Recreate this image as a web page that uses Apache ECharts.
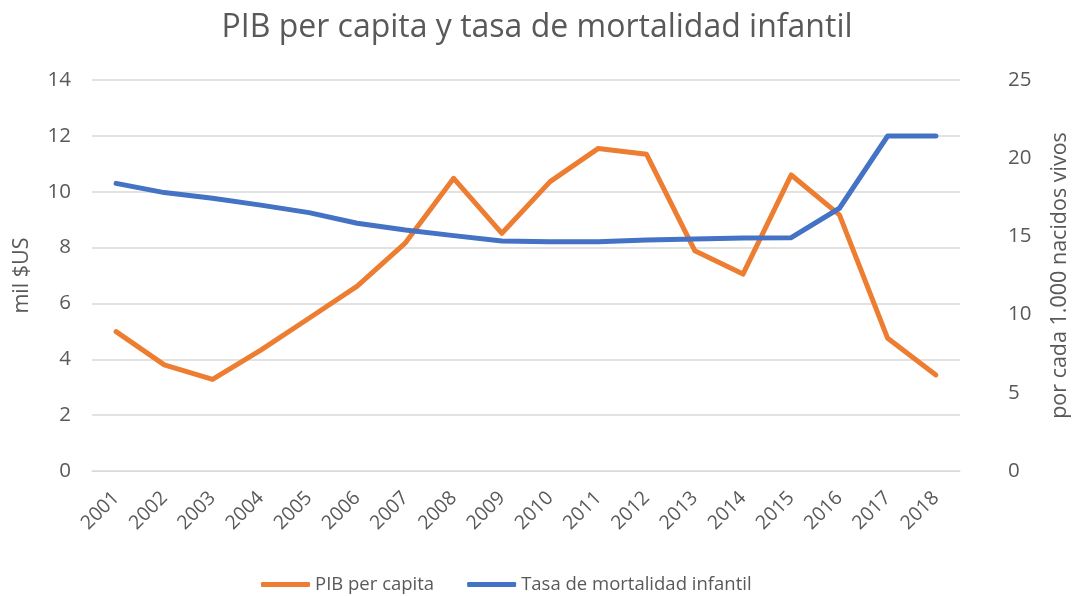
<!DOCTYPE html>
<html>
<head>
<meta charset="utf-8">
<script src="https://cdn.jsdelivr.net/npm/echarts@6/dist/echarts.min.js"></script>
<style>
  html, body { margin: 0; padding: 0; background: #fff; }
  #main { width: 1074px; height: 596px; }
</style>
</head>
<body>
<div id="main"></div>
<script>
// datos
var years = ['2001', '2002', '2003', '2004', '2005', '2006', '2007', '2008', '2009',
  '2010', '2011', '2012', '2013', '2014', '2015', '2016', '2017', '2018']
var pib = [4.99, 3.8, 3.28, 4.33, 5.47, 6.62, 8.17, 10.48, 8.51,
  10.36, 11.55, 11.34, 7.89, 7.05, 10.6, 9.17, 4.75, 3.44]
var mortalidad = [18.39, 17.8, 17.44, 17.0, 16.52, 15.84, 15.41, 15.05, 14.7,
  14.66, 14.66, 14.77, 14.83, 14.9, 14.92, 16.8, 21.42, 21.42]

var fontFam = '"Open Sans", "Noto Sans", sans-serif'
var grey = '#595959'

var myChart = echarts.init(document.getElementById('main'))
var option = {
  backgroundColor: '#fff',
  textStyle: { fontFamily: fontFam },
  title: {
    text: 'PIB per capita y tasa de mortalidad infantil',
    left: 'center',
    top: 7,
    textStyle: { fontFamily: fontFam, fontSize: 32, fontWeight: 'normal', color: grey },
  },
  legend: {
    top: 570,
    left: 256,
    icon: 'roundRect',
    itemWidth: 49,
    itemHeight: 5,
    itemGap: 33,
    textStyle: { fontFamily: fontFam, fontSize: 18.5, color: grey },
    data: ['PIB per capita', 'Tasa de mortalidad infantil'],
  },
  grid: { left: 92, right: 114, top: 80, bottom: 125, outerBoundsMode: 'none' },
  xAxis: {
    type: 'category',
    data: years,
    axisLine: { lineStyle: { color: '#d9d9d9' } },
    axisTick: { show: false },
    axisLabel: { rotate: 45, fontSize: 19.5, color: grey, interval: 0, margin: 24 },
  },
  yAxis: [
    {
      type: 'value',
      min: 0,
      max: 14,
      interval: 2,
      name: 'mil $US',
      nameLocation: 'middle',
      nameGap: 59,
      nameTextStyle: { fontSize: 21.5, color: grey },
      axisLabel: { fontSize: 20.5, color: grey, margin: 21 },
      splitLine: { lineStyle: { color: '#d9d9d9', width: 1.5 } },
    },
    {
      type: 'value',
      min: 0,
      max: 25,
      interval: 5,
      name: 'por cada 1.000 nacidos vivos',
      nameLocation: 'middle',
      nameGap: 89,
      nameRotate: 90,
      nameTextStyle: { fontSize: 21.5, color: grey },
      axisLabel: { fontSize: 20.5, color: grey, margin: 48 },
      splitLine: { show: false },
    },
  ],
  series: [
    {
      name: 'PIB per capita',
      type: 'line',
      data: pib,
      yAxisIndex: 0,
      symbol: 'none',
      color: '#ED7D31',
      lineStyle: { width: 5, cap: 'round', join: 'round' },
    },
    {
      name: 'Tasa de mortalidad infantil',
      type: 'line',
      data: mortalidad,
      yAxisIndex: 1,
      symbol: 'none',
      color: '#4472C4',
      lineStyle: { width: 5, cap: 'round', join: 'round' },
    },
  ],
}
myChart.setOption(option)
</script>
</body>
</html>
